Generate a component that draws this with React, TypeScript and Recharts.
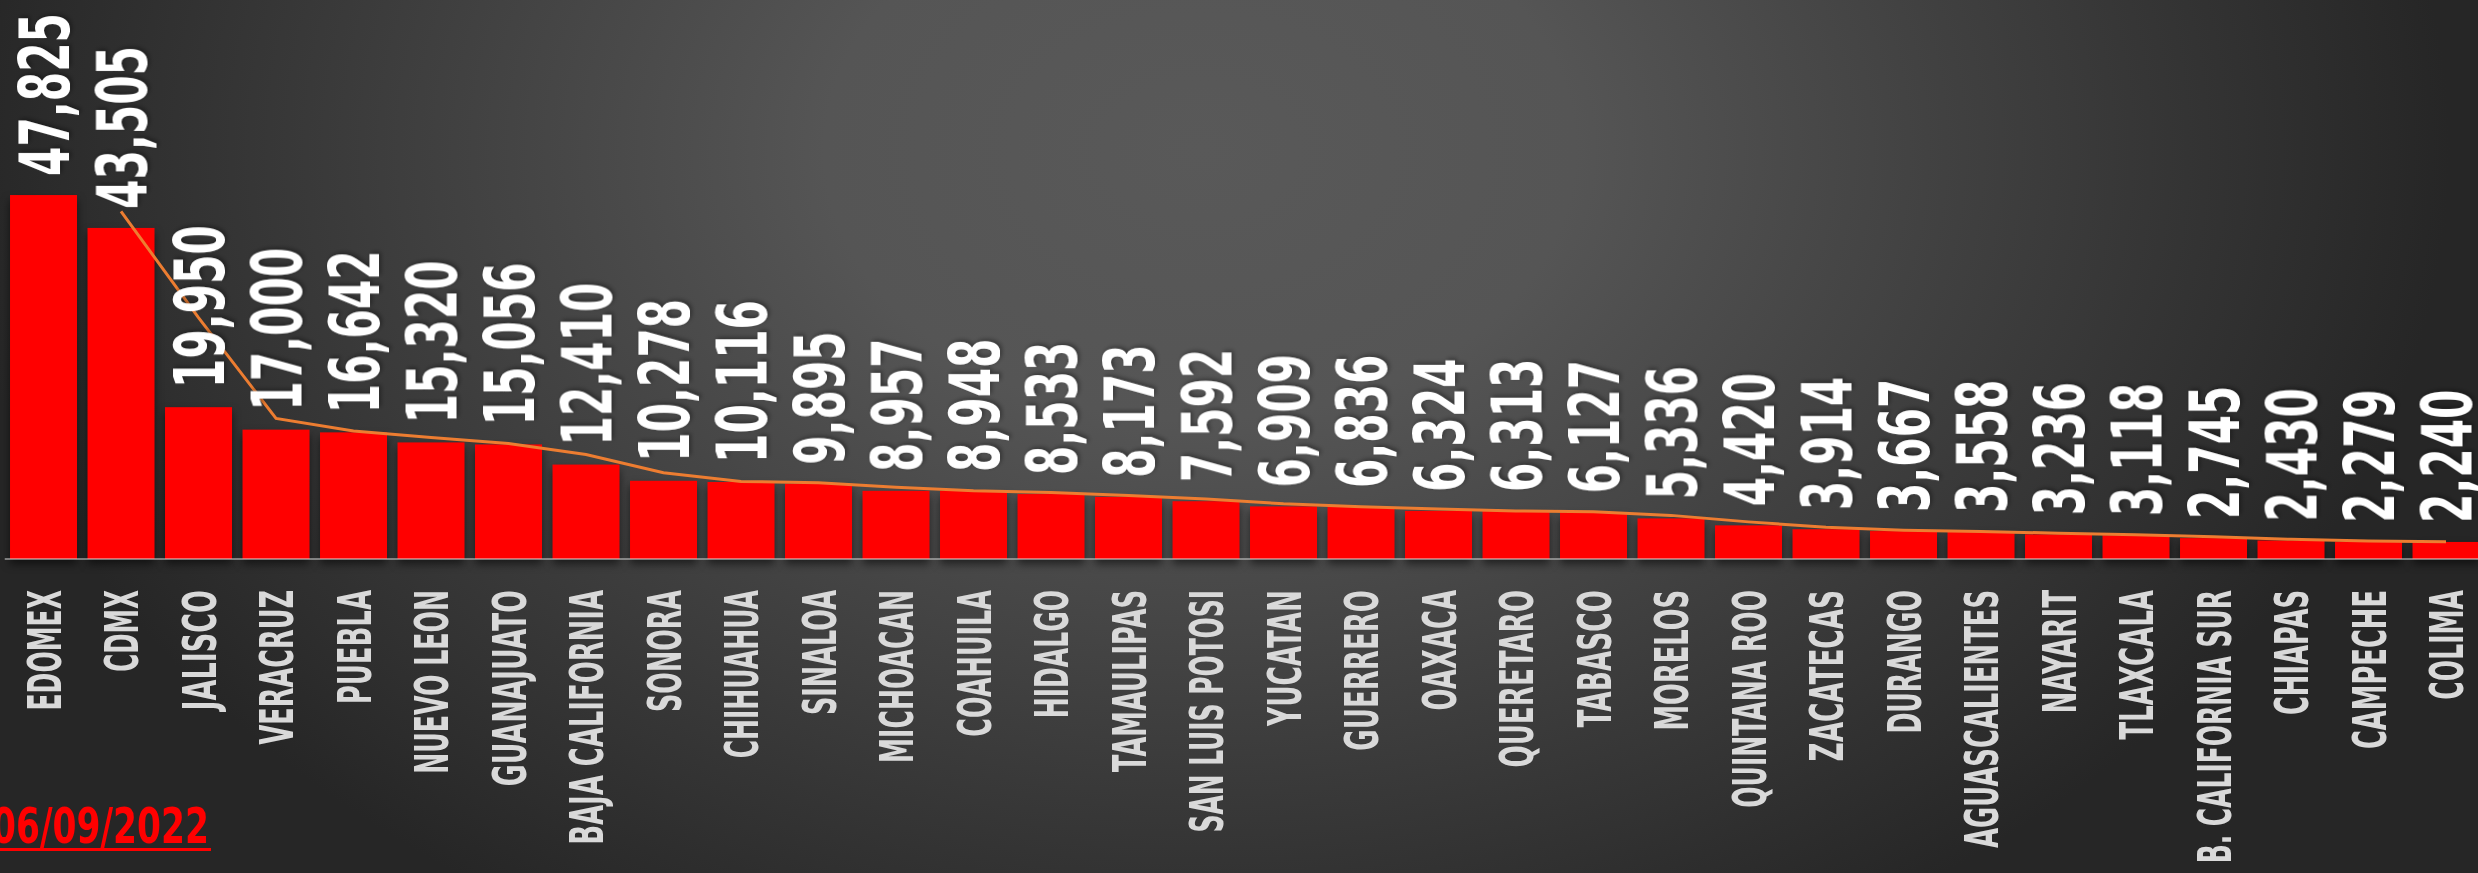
import { Bar, ComposedChart, LabelList, Line, XAxis, YAxis } from 'recharts';

const STATES = [
  'EDOMEX', 'CDMX', 'JALISCO', 'VERACRUZ', 'PUEBLA', 'NUEVO LEON', 'GUANAJUATO', 'BAJA CALIFORNIA',
  'SONORA', 'CHIHUAHUA', 'SINALOA', 'MICHOACAN', 'COAHUILA', 'HIDALGO', 'TAMAULIPAS', 'SAN LUIS POTOSI',
  'YUCATAN', 'GUERRERO', 'OAXACA', 'QUERETARO', 'TABASCO', 'MORELOS', 'QUINTANA ROO', 'ZACATECAS',
  'DURANGO', 'AGUASCALIENTES', 'NAYARIT', 'TLAXCALA', 'B. CALIFORNIA SUR', 'CHIAPAS', 'CAMPECHE', 'COLIMA',
];

const CASES = [
  47825, 43505, 19950, 17000, 16642, 15320, 15056, 12410,
  10278, 10116, 9895, 8957, 8948, 8533, 8173, 7592,
  6909, 6836, 6324, 6313, 6127, 5336, 4420, 3914,
  3667, 3558, 3236, 3118, 2745, 2430, 2279, 2240,
];

// orange trend line (2-point moving average)
const TREND = [
  null, 45665, 31728, 18475, 16821, 15981, 15188, 13733,
  11344, 10197, 10006, 9426, 8953, 8741, 8353, 7883,
  7251, 6873, 6580, 6319, 6220, 5732, 4878, 4167,
  3791, 3613, 3397, 3177, 2932, 2588, 2355, 2260,
];

const DATE_LABEL = '06/09/2022';

const FONT = "'DejaVu Sans Condensed', 'DejaVu Sans', sans-serif";

// rough bold glyph widths (em) so the condensed look can be forced with textLength
const CHAR_W: Record<string, number> = {
  A: 0.722, B: 0.722, C: 0.722, D: 0.722, E: 0.667, F: 0.611, G: 0.778, H: 0.722, I: 0.278,
  J: 0.556, K: 0.722, L: 0.611, M: 0.833, N: 0.722, O: 0.778, P: 0.667, Q: 0.778, R: 0.722,
  S: 0.667, T: 0.611, U: 0.722, V: 0.667, W: 0.944, X: 0.667, Y: 0.667, Z: 0.611,
  ' ': 0.278, '.': 0.278, ',': 0.278, '/': 0.278,
};
const textWidth = (s: string, perEm: number) =>
  s.split('').reduce((sum, ch) => sum + (CHAR_W[ch] ?? 0.556), 0) * perEm;

const chartData = STATES.map((name, i) => ({ name, cases: CASES[i], trend: TREND[i] }));

function ValueLabel(props: any) {
  const { x, y, width, value } = props;
  const cx = Number(x) + Number(width) / 2;
  const label = Number(value).toLocaleString('en-US');
  return (
    <text
      transform={`translate(${cx + 25.5},${Number(y) - 19}) rotate(-90)`}
      fill="#ffffff"
      fontSize={70}
      fontWeight={700}
      fontFamily={FONT}
      textLength={textWidth(label, 53.3)}
      lengthAdjust="spacingAndGlyphs"
      style={{ filter: 'drop-shadow(2px 2px 2px rgba(0,0,0,0.35))' }}
    >
      {label}
    </text>
  );
}

function StateTick(props: any) {
  const { x, y, payload } = props;
  const label = String(payload.value);
  return (
    <text
      transform={`translate(${Number(x) + 17},${Number(y) + 31}) rotate(-90)`}
      textAnchor="end"
      fill="#d9d9d9"
      fontSize={46.6}
      fontWeight={700}
      fontFamily={FONT}
      textLength={textWidth(label, 27.8)}
      lengthAdjust="spacingAndGlyphs"
    >
      {label}
    </text>
  );
}

function ShadowBar(props: any) {
  const { x, y, width, height } = props;
  return (
    <rect
      x={x}
      y={y}
      width={width}
      height={height}
      fill="#ff0000"
      style={{ filter: 'drop-shadow(0px 5px 4px rgba(0,0,0,0.55))' }}
    />
  );
}

export default function App() {
  return (
    <div
      style={{
        position: 'fixed',
        left: 0,
        top: 0,
        width: 2478,
        height: 873,
        overflow: 'hidden',
        background:
          'radial-gradient(ellipse 1250px 900px at 1200px 150px, #595959 0%, #555555 30%, #3a3a3a 70%, #262626 100%)',
      }}
    >
      <ComposedChart
        width={2490}
        height={873}
        data={chartData}
        margin={{ top: 178.5, right: 5.25, left: 4.75, bottom: 0 }}
        barCategoryGap="6.8%"
      >
        <XAxis
          dataKey="name"
          interval={0}
          height={314}
          tickLine={false}
          tickSize={0}
          tickMargin={0}
          axisLine={{ stroke: '#d9d9d9', strokeOpacity: 0.5, strokeWidth: 2 }}
          tick={(p: any) => <StateTick {...p} />}
        />
        <YAxis hide domain={[0, 50000]} />
        <Bar dataKey="cases" fill="#ff0000" isAnimationActive={false} shape={(p: any) => <ShadowBar {...p} />}>
          <LabelList dataKey="cases" content={(p: any) => <ValueLabel {...p} />} />
        </Bar>
        <Line
          type="linear"
          dataKey="trend"
          stroke="#ed7d31"
          strokeWidth={3}
          dot={false}
          activeDot={false}
          isAnimationActive={false}
        />
      </ComposedChart>
      <svg width={400} height={80} style={{ position: 'absolute', left: 0, top: 793 }}>
        <text
          x={-8}
          y={50}
          fill="#ff0000"
          fontSize={49.4}
          fontWeight={700}
          fontFamily={FONT}
          textLength={217}
          lengthAdjust="spacingAndGlyphs"
        >
          {DATE_LABEL}
        </text>
        <rect x={0} y={55} width={211} height={3} fill="#ff0000" />
      </svg>
    </div>
  );
}
